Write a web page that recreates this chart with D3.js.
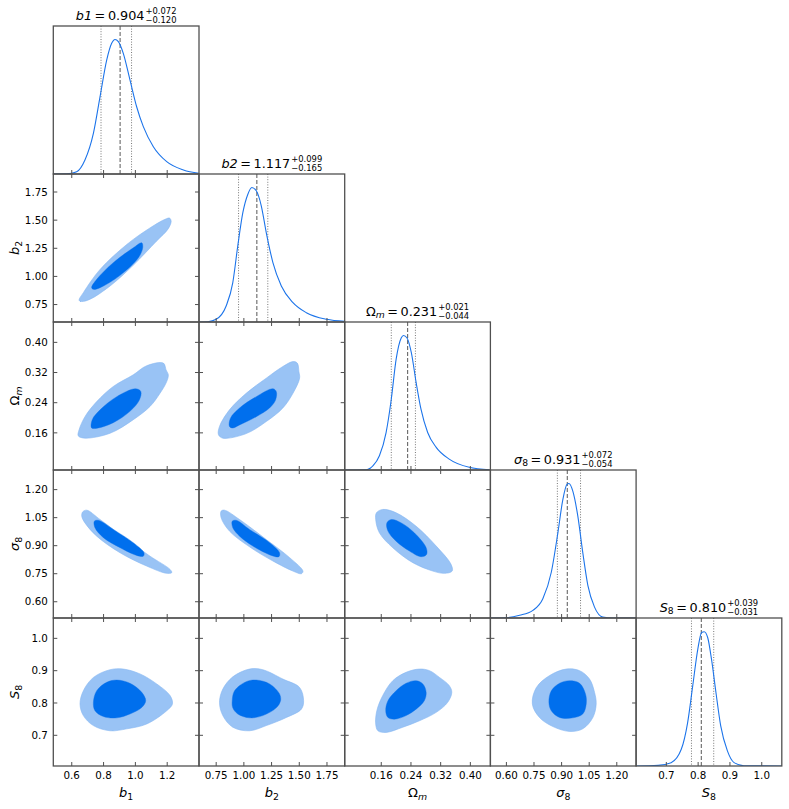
<!DOCTYPE html>
<html><head><meta charset="utf-8">
<script src="https://cdn.jsdelivr.net/npm/d3@7"></script>
<style>body{margin:0;background:#fff} text{font-family:"DejaVu Sans",sans-serif;fill:#000}</style>
</head><body><svg id="c" width="789" height="809"></svg>
<script>
// ---------------- data ----------------
const paramNames = ["b1", "b2", "Om", "s8", "S8"];
const axisRanges = [[0.484, 1.40], [0.595, 1.91], [0.0615, 0.454], [0.513, 1.305], [0.605, 1.063]];
const b1Ticks = [0.6, 0.8, 1.0, 1.2];
const b2Ticks = [0.75, 1.00, 1.25, 1.50, 1.75];
const OmTicks = [0.16, 0.24, 0.32, 0.40];
const s8Ticks = [0.60, 0.75, 0.90, 1.05, 1.20];
const S8Ticks = [0.7, 0.8, 0.9, 1.0];
const b1TickLabels = ["0.6", "0.8", "1.0", "1.2"];
const b2TickLabels = ["0.75", "1.00", "1.25", "1.50", "1.75"];
const OmTickLabels = ["0.16", "0.24", "0.32", "0.40"];
const s8TickLabels = ["0.60", "0.75", "0.90", "1.05", "1.20"];
const S8TickLabels = ["0.7", "0.8", "0.9", "1.0"];
const medians = [0.904, 1.117, 0.231, 0.931, 0.810];
const errPlus = ["0.072", "0.099", "0.021", "0.072", "0.039"];
const errMinus = ["0.120", "0.165", "0.044", "0.054", "0.031"];
const medianLabels = ["0.904", "1.117", "0.231", "0.931", "0.810"];

// 1D marginal densities (normalised to peak 1)
const b1X = [0.484, 0.568, 0.631, 0.683, 0.736, 0.778, 0.820, 0.851, 0.872, 0.893, 0.924, 0.966, 1.008, 1.050, 1.113, 1.197, 1.302, 1.40];
const b1D = [0, 0.001, 0.017, 0.104, 0.302, 0.575, 0.848, 0.971, 1.0, 0.984, 0.897, 0.699, 0.5, 0.352, 0.203, 0.092, 0.030, 0.005];
const b2X = [0.595, 0.674, 0.750, 0.840, 0.900, 0.945, 0.991, 1.036, 1.072, 1.112, 1.157, 1.202, 1.262, 1.338, 1.443, 1.564, 1.745, 1.91];
const b2D = [0, 0.002, 0.020, 0.119, 0.293, 0.566, 0.814, 0.950, 1.0, 0.975, 0.864, 0.665, 0.442, 0.268, 0.144, 0.069, 0.020, 0.005];
const OmX = [0.0615, 0.120, 0.138, 0.155, 0.173, 0.187, 0.200, 0.214, 0.220, 0.229, 0.241, 0.254, 0.267, 0.285, 0.308, 0.343, 0.397, 0.451];
const OmD = [0, 0.002, 0.032, 0.106, 0.278, 0.526, 0.822, 0.983, 1.0, 0.983, 0.872, 0.649, 0.452, 0.279, 0.168, 0.081, 0.020, 0.002];
const s8X = [0.513, 0.600, 0.672, 0.744, 0.798, 0.844, 0.880, 0.907, 0.929, 0.940, 0.961, 0.988, 1.015, 1.043, 1.079, 1.124, 1.178, 1.305];
const s8D = [0, 0.002, 0.020, 0.057, 0.143, 0.340, 0.635, 0.882, 0.993, 1.0, 0.943, 0.759, 0.488, 0.241, 0.081, 0.007, 0, 0];
const S8X = [0.605, 0.674, 0.715, 0.747, 0.767, 0.783, 0.799, 0.811, 0.819, 0.830, 0.842, 0.856, 0.871, 0.892, 0.913, 0.944, 1.063];
const S8D = [0, 0.005, 0.025, 0.124, 0.323, 0.596, 0.869, 0.993, 0.998, 0.955, 0.794, 0.546, 0.298, 0.112, 0.025, 0.002, 0];

// 2D contours [x, y] (outer = 95%, inner = 68%)
const b1b2Outer = [[0.646,0.788],[0.673,0.856],[0.778,1.062],[0.946,1.284],[1.092,1.431],[1.190,1.510],[1.215,1.518],[1.225,1.490],[1.205,1.420],[1.134,1.315],[0.987,1.100],[0.841,0.915],[0.715,0.797],[0.663,0.777]];
const b1b2Inner = [[0.725,0.900],[0.757,0.974],[0.861,1.122],[0.987,1.254],[1.040,1.299],[1.046,1.254],[1.019,1.166],[0.904,1.010],[0.778,0.900],[0.736,0.885]];
const b1OmOuter = [[0.641,0.152],[0.683,0.146],[0.841,0.159],[0.987,0.195],[1.092,0.230],[1.155,0.265],[1.197,0.296],[1.207,0.314],[1.193,0.327],[1.176,0.345],[1.071,0.338],[0.987,0.314],[0.861,0.283],[0.757,0.243],[0.683,0.203],[0.646,0.168]];
const b1OmInner = [[0.725,0.173],[0.729,0.195],[0.778,0.221],[0.883,0.256],[1.0,0.277],[1.034,0.270],[1.025,0.247],[0.966,0.217],[0.861,0.187],[0.767,0.173]];
const b2OmOuter = [[0.771,0.155],[0.810,0.146],[1.021,0.158],[1.202,0.190],[1.352,0.226],[1.443,0.265],[1.503,0.305],[1.497,0.322],[1.482,0.345],[1.443,0.349],[1.352,0.336],[1.202,0.305],[1.021,0.265],[0.870,0.221],[0.780,0.177]];
const b2OmInner = [[0.870,0.177],[0.879,0.199],[0.961,0.226],[1.112,0.256],[1.262,0.277],[1.292,0.270],[1.286,0.247],[1.232,0.226],[1.112,0.203],[0.961,0.181],[0.900,0.173]];
const b1s8Outer = [[0.663,1.058],[0.669,1.081],[0.694,1.090],[0.778,1.040],[0.946,0.933],[1.092,0.844],[1.218,0.773],[1.229,0.756],[1.197,0.752],[1.071,0.791],[0.904,0.862],[0.757,0.951],[0.683,1.022]];
const b1s8Inner = [[0.742,1.031],[0.767,1.036],[0.861,0.987],[0.987,0.916],[1.054,0.862],[1.050,0.844],[1.008,0.848],[0.904,0.889],[0.799,0.943],[0.746,0.996]];
const b2s8Outer = [[0.795,1.085],[0.825,1.090],[0.961,1.040],[1.202,0.933],[1.413,0.836],[1.533,0.764],[1.519,0.750],[1.443,0.764],[1.262,0.818],[1.051,0.894],[0.870,0.978],[0.795,1.049]];
const b2s8Inner = [[0.895,1.031],[0.931,1.036],[1.051,0.987],[1.232,0.916],[1.322,0.862],[1.316,0.841],[1.247,0.848],[1.081,0.898],[0.961,0.951],[0.900,0.996]];
const Oms8Outer = [[0.147,1.076],[0.164,1.094],[0.200,1.076],[0.254,1.004],[0.308,0.898],[0.348,0.800],[0.351,0.764],[0.330,0.752],[0.299,0.764],[0.245,0.809],[0.191,0.889],[0.155,0.969],[0.145,1.040]];
const Oms8Inner = [[0.175,1.022],[0.187,1.040],[0.214,1.022],[0.249,0.969],[0.281,0.889],[0.282,0.853],[0.267,0.841],[0.236,0.871],[0.200,0.924],[0.178,0.978]];
const b1S8Outer = [[0.652,0.797],[0.673,0.838],[0.736,0.879],[0.841,0.903],[0.924,0.905],[1.029,0.890],[1.134,0.859],[1.218,0.823],[1.233,0.797],[1.197,0.776],[1.071,0.735],[0.946,0.720],[0.841,0.714],[0.736,0.730],[0.673,0.761]];
const b1S8Inner = [[0.736,0.802],[0.757,0.838],[0.820,0.864],[0.883,0.871],[0.966,0.861],[1.040,0.833],[1.065,0.807],[1.040,0.786],[0.966,0.766],[0.883,0.754],[0.799,0.758],[0.746,0.776]];
const b2S8Outer = [[0.780,0.802],[0.810,0.843],[0.900,0.881],[1.051,0.905],[1.171,0.903],[1.352,0.874],[1.503,0.848],[1.539,0.807],[1.519,0.781],[1.383,0.755],[1.202,0.730],[1.051,0.714],[0.900,0.725],[0.810,0.761]];
const b2S8Inner = [[0.895,0.807],[0.916,0.838],[1.021,0.866],[1.112,0.871],[1.232,0.859],[1.322,0.828],[1.331,0.807],[1.292,0.785],[1.171,0.761],[1.051,0.754],[0.945,0.766],[0.900,0.785]];
const OmS8Outer = [[0.145,0.735],[0.148,0.776],[0.164,0.823],[0.191,0.869],[0.227,0.895],[0.263,0.905],[0.290,0.900],[0.317,0.879],[0.343,0.854],[0.350,0.833],[0.339,0.802],[0.308,0.771],[0.263,0.745],[0.218,0.725],[0.173,0.709],[0.151,0.714]];
const OmS8Inner = [[0.172,0.776],[0.178,0.807],[0.200,0.838],[0.227,0.861],[0.254,0.869],[0.272,0.859],[0.281,0.833],[0.276,0.807],[0.254,0.781],[0.227,0.761],[0.196,0.750],[0.178,0.755]];
const s8S8Outer = [[0.741,0.797],[0.763,0.848],[0.835,0.885],[0.925,0.905],[0.998,0.900],[1.052,0.874],[1.079,0.833],[1.088,0.797],[1.070,0.755],[1.015,0.720],[0.943,0.712],[0.853,0.727],[0.780,0.755]];
const s8S8Inner = [[0.831,0.802],[0.844,0.838],[0.889,0.861],[0.943,0.869],[0.998,0.861],[1.030,0.828],[1.034,0.797],[1.015,0.766],[0.961,0.754],[0.889,0.755],[0.844,0.776]];

// ---------------- assembly ----------------
const tickSets = [b1Ticks, b2Ticks, OmTicks, s8Ticks, S8Ticks];
const tickLabelSets = [b1TickLabels, b2TickLabels, OmTickLabels, s8TickLabels, S8TickLabels];
const marg = [[b1X,b1D],[b2X,b2D],[OmX,OmD],[s8X,s8D],[S8X,S8D]];
const contours = [
  {r:1,c:0,o:b1b2Outer,i:b1b2Inner},
  {r:2,c:0,o:b1OmOuter,i:b1OmInner},{r:2,c:1,o:b2OmOuter,i:b2OmInner},
  {r:3,c:0,o:b1s8Outer,i:b1s8Inner},{r:3,c:1,o:b2s8Outer,i:b2s8Inner},{r:3,c:2,o:Oms8Outer,i:Oms8Inner},
  {r:4,c:0,o:b1S8Outer,i:b1S8Inner},{r:4,c:1,o:b2S8Outer,i:b2S8Inner},{r:4,c:2,o:OmS8Outer,i:OmS8Inner},{r:4,c:3,o:s8S8Outer,i:s8S8Inner}
];
// label pieces: [text, italic, sub]
const axisLabelParts = [
  [["b",1,0],["1",0,1]],
  [["b",1,0],["2",0,1]],
  [["Ω",0,0],["m",1,1]],
  [["σ",1,0],["8",0,1]],
  [["S",1,0],["8",0,1]]
];
const titleParts = [
  [["b",1,0],["1",1,0]],
  [["b",1,0],["2",1,0]],
  [["Ω",0,0],["m",1,1]],
  [["σ",1,0],["8",0,1]],
  [["S",1,0],["8",0,1]]
];

const L = 53.3, T = 26, CW = 145.7, RH = 148;
const FRAME = "#505050";
const svg = d3.select("#c");
const defs = svg.append("defs");

const xs = axisRanges.map((d, j) => d3.scaleLinear().domain(d).range([L + j*CW, L + (j+1)*CW]));
const ys = axisRanges.map((d, i) => d3.scaleLinear().domain(d).range([T + (i+1)*RH, T + i*RH]));

function clipFor(r, c) {
  const id = `clip${r}${c}`;
  defs.append("clipPath").attr("id", id).append("rect")
    .attr("x", L + c*CW).attr("y", T + r*RH).attr("width", CW).attr("height", RH);
  return `url(#${id})`;
}

function addParts(textSel, parts, fs, subDy) {
  let shifted = false;
  parts.forEach(p => {
    const ts = textSel.append("tspan").text(p[0]);
    if (p[1]) ts.attr("font-style", "italic");
    if (p[2]) { ts.attr("font-size", fs*0.72).attr("dy", subDy); shifted = true; }
    else if (shifted) { ts.attr("dy", -subDy); shifted = false; }
  });
}

// 2D panels
contours.forEach(ct => {
  const g = svg.append("g").attr("clip-path", clipFor(ct.r, ct.c));
  const lg = d3.line().x(d => xs[ct.c](d[0])).y(d => ys[ct.r](d[1])).curve(d3.curveCatmullRomClosed.alpha(0.5));
  g.append("path").attr("d", lg(ct.o)).attr("fill", "#99C3F5").attr("stroke", "#86B7F2").attr("stroke-width", 0.6);
  g.append("path").attr("d", lg(ct.i)).attr("fill", "#006FED").attr("stroke", "#0A6FE8").attr("stroke-width", 0.4);
});

// 1D panels
for (let k = 0; k < 5; k++) {
  const y1 = d3.scaleLinear().domain([0, 1.1]).range([T + (k+1)*RH, T + k*RH]);
  const g = svg.append("g").attr("clip-path", clipFor(k, k));
  const [mx, md] = marg[k];
  const ln = d3.line().x((d, i) => xs[k](mx[i])).y(d => y1(d)).curve(d3.curveMonotoneX);
  const lo = medians[k] - (+errMinus[k]), hi = medians[k] + (+errPlus[k]);
  [lo, hi].forEach(v => {
    g.append("line").attr("x1", xs[k](v)).attr("x2", xs[k](v))
      .attr("y1", T + k*RH).attr("y2", T + (k+1)*RH)
      .attr("stroke", "#777").attr("stroke-width", 1).attr("stroke-dasharray", "1,1.6");
  });
  g.append("line").attr("x1", xs[k](medians[k])).attr("x2", xs[k](medians[k]))
    .attr("y1", T + k*RH).attr("y2", T + (k+1)*RH)
    .attr("stroke", "#666").attr("stroke-width", 1.1).attr("stroke-dasharray", "4,2");
  g.append("path").attr("d", ln(md)).attr("fill", "none").attr("stroke", "#1C74EA").attr("stroke-width", 1.1);
}

// frames and ticks
const TL = 4;
for (let r = 0; r < 5; r++) {
  for (let c = 0; c <= r; c++) {
    const x0 = L + c*CW, y0 = T + r*RH;
    const g = svg.append("g").attr("stroke", FRAME).attr("stroke-width", 1);
    tickSets[c].forEach(t => {
      const x = xs[c](t);
      g.append("line").attr("x1", x).attr("x2", x).attr("y1", y0 + RH).attr("y2", y0 + RH - TL);
      if (r !== c) g.append("line").attr("x1", x).attr("x2", x).attr("y1", y0).attr("y2", y0 + TL);
    });
    if (r !== c) {
      tickSets[r].forEach(t => {
        const y = ys[r](t);
        g.append("line").attr("x1", x0).attr("x2", x0 + TL).attr("y1", y).attr("y2", y);
        g.append("line").attr("x1", x0 + CW).attr("x2", x0 + CW - TL).attr("y1", y).attr("y2", y);
      });
    }
    svg.append("rect").attr("x", x0).attr("y", y0).attr("width", CW).attr("height", RH)
      .attr("fill", "none").attr("stroke", FRAME).attr("stroke-width", 1.3);
  }
}

// tick labels
for (let c = 0; c < 5; c++) {
  tickSets[c].forEach((t, i) => {
    svg.append("text").attr("x", xs[c](t)).attr("y", T + 5*RH + 13)
      .attr("text-anchor", "middle").attr("font-size", 10.3).text(tickLabelSets[c][i]);
  });
}
for (let r = 1; r < 5; r++) {
  tickSets[r].forEach((t, i) => {
    svg.append("text").attr("x", L - 5.5).attr("y", ys[r](t)).attr("dy", "0.36em")
      .attr("text-anchor", "end").attr("font-size", 10.3).text(tickLabelSets[r][i]);
  });
}

// axis labels
for (let c = 0; c < 5; c++) {
  const t = svg.append("text").attr("x", L + (c+0.5)*CW).attr("y", 797)
    .attr("text-anchor", "middle").attr("font-size", 13);
  addParts(t, axisLabelParts[c], 13, 3);
}
for (let r = 1; r < 5; r++) {
  const cy = T + (r+0.5)*RH;
  const t = svg.append("text").attr("transform", `translate(19,${cy}) rotate(-90)`)
    .attr("text-anchor", "middle").attr("font-size", 13);
  addParts(t, axisLabelParts[r], 13, 3);
}

// titles
for (let k = 0; k < 5; k++) {
  const base = T + k*RH - 6.5;
  const cx = L + (k+0.5)*CW;
  const main = svg.append("text").attr("x", 0).attr("y", base).attr("font-size", 12.8);
  addParts(main, titleParts[k], 12.8, 2.5);
  const last = main.append("tspan").text("\u2009=\u2009" + medianLabels[k]);
  if (titleParts[k][titleParts[k].length-1][2]) last.attr("dy", -2.5);
  const sup = svg.append("text").attr("y", base - 5.3).attr("font-size", 8.4).text("+" + errPlus[k]);
  const sub = svg.append("text").attr("y", base + 3.9).attr("font-size", 8.4).text("\u2212" + errMinus[k]);
  const wm = main.node().getComputedTextLength();
  const ws = Math.max(sup.node().getComputedTextLength(), sub.node().getComputedTextLength());
  const x0 = cx - (wm + ws + 1) / 2;
  main.attr("x", x0);
  sup.attr("x", x0 + wm + 1);
  sub.attr("x", x0 + wm + 1);
}
</script></body></html>
